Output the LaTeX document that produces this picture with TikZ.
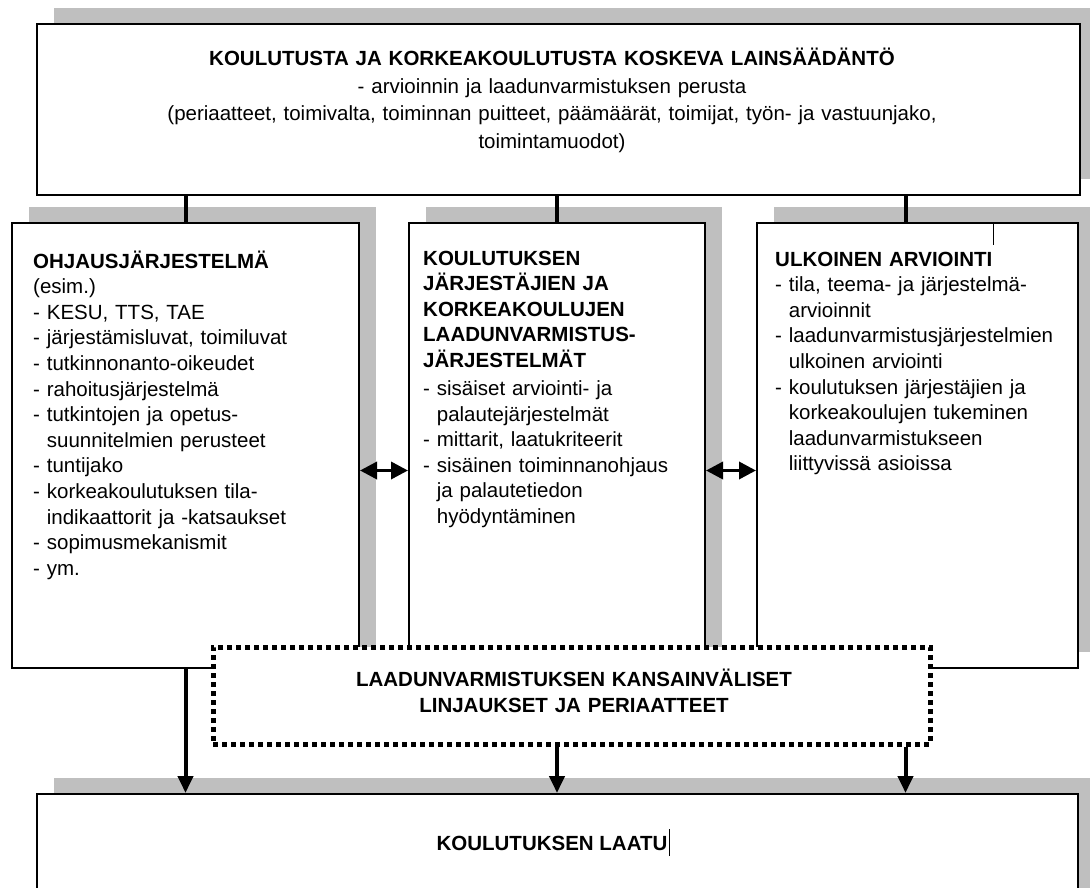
\documentclass[tikz,border=0pt]{standalone}
\usepackage{fontspec}
\setmainfont{Liberation Sans}
\usetikzlibrary{arrows.meta,shadows}
\definecolor{shadowgray}{RGB}{191,191,191}

\begin{document}
\begin{tikzpicture}[x=1pt,y=-1pt,
  box/.style={draw, line width=2pt, fill=white, anchor=north west, inner sep=0pt,
    general shadow={fill=shadowgray, shadow xshift=17pt, shadow yshift=16pt}},
  txt/.style={font=\fontsize{20.5}{25.6}\selectfont, align=left, inner sep=0pt, anchor=base west},
  conn/.style={line width=4pt},
  arr/.style={line width=4pt, -{Triangle[length=17pt,width=15pt]}},
  dblarr/.style={line width=3.5pt, {Triangle[length=17pt,width=17pt]}-{Triangle[length=17pt,width=17pt]}}]
  \useasboundingbox (0,0) rectangle (1090,888);

  \node[box, minimum width=1043pt, minimum height=171pt] (law) at (36,23) {};
  \node[box, minimum width=347pt, minimum height=445pt] (steer) at (11,222) {};
  \node[box, minimum width=296pt, minimum height=445pt] (qa) at (408,222) {};
  \node[box, minimum width=321pt, minimum height=445pt] (eval) at (756,222) {};
  \node[box, minimum width=1041pt, minimum height=120pt] (quality) at (36,793) {};
  \node[draw, line width=5pt, dash pattern=on 5pt off 4pt, fill=white, anchor=north west,
    inner sep=0pt, minimum width=717pt, minimum height=97pt] (intl) at (210.5,644.5) {};

  \node[txt, font=\fontsize{20.5}{27.5}\selectfont, text width=900pt, align=center, anchor=base] (lawtxt) at (552,66)
  {\textbf{KOULUTUSTA JA KORKEAKOULUTUSTA KOSKEVA LAINSÄÄDÄNTÖ}\\
   - arvioinnin ja laadunvarmistuksen perusta\\
   (periaatteet, toimivalta, toiminnan puitteet, päämäärät, toimijat, työn- ja vastuunjako,\\
   toimintamuodot)};
  \node[txt, text width=320pt] (steertxt) at (33,268)
  {\textbf{OHJAUSJÄRJESTELMÄ}\\
   (esim.)\\
   - KESU, TTS, TAE\\
   - järjestämisluvat, toimiluvat\\
   - tutkinnonanto-oikeudet\\
   - rahoitusjärjestelmä\\
   - tutkintojen ja opetus-\\
   \phantom{- }suunnitelmien perusteet\\
   - tuntijako\\
   - korkeakoulutuksen tila-\\
   \phantom{- }indikaattorit ja -katsaukset\\
   - sopimusmekanismit\\
   - ym.};
  \node[txt, text width=280pt] (qatxt) at (423,265)
  {\textbf{KOULUTUKSEN}\\
   \textbf{JÄRJESTÄJIEN JA}\\
   \textbf{KORKEAKOULUJEN}\\
   \textbf{LAADUNVARMISTUS-}\\
   \textbf{JÄRJESTELMÄT}\\[2.5pt]
   - sisäiset arviointi- ja\\
   \phantom{- }palautejärjestelmät\\
   - mittarit, laatukriteerit\\
   - sisäinen toiminnanohjaus\\
   \phantom{- }ja palautetiedon\\
   \phantom{- }hyödyntäminen};
  \node[txt, text width=300pt] (evaltxt) at (775,266)
  {\textbf{ULKOINEN ARVIOINTI}\\
   - tila, teema- ja järjestelmä-\\
   \phantom{- }arvioinnit\\
   - laadunvarmistusjärjestelmien\\
   \phantom{- }ulkoinen arviointi\\
   - koulutuksen järjestäjien ja\\
   \phantom{- }korkeakoulujen tukeminen\\
   \phantom{- }laadunvarmistukseen\\
   \phantom{- }liittyvissä asioissa};
  \node[txt, font=\fontsize{20.5}{26}\selectfont\bfseries, text width=600pt, align=center, anchor=base] (intltxt) at (574,686)
  {LAADUNVARMISTUKSEN KANSAINVÄLISET\\
   LINJAUKSET JA PERIAATTEET};
  \node[txt, font=\fontsize{20.5}{25.6}\selectfont\bfseries, anchor=base] (laatu) at (552,850) {KOULUTUKSEN LAATU};

  \draw[conn] (steer.north) -- (steer.north |- law.south);
  \draw[conn] (qa.north) -- (qa.north |- law.south);
  \draw[conn] ([xshift=-12pt]eval.north) -- ([xshift=-12pt]eval.north |- law.south);
  \draw[dblarr] ([yshift=-25pt]steer.east) -- ([yshift=-25pt]steer.east -| qa.west);
  \draw[dblarr] ([yshift=-25pt]qa.east) -- ([yshift=-25pt]qa.east -| eval.west);
  \draw[arr] (steer.south) -- (steer.south |- quality.north);
  \draw[arr] (intl.south -| qa.south) -- (qa.south |- quality.north);
  \draw[arr] ([xshift=-12pt]eval.south |- intl.south) -- ([xshift=-12pt]eval.south |- quality.north);
  \draw[line width=1pt] ([xshift=75.5pt]eval.north) -- ++(0,23);
  \draw[line width=1pt] ([xshift=2pt,yshift=-6pt]laatu.base east) -- ++(0,-27);
\end{tikzpicture}
\end{document}
